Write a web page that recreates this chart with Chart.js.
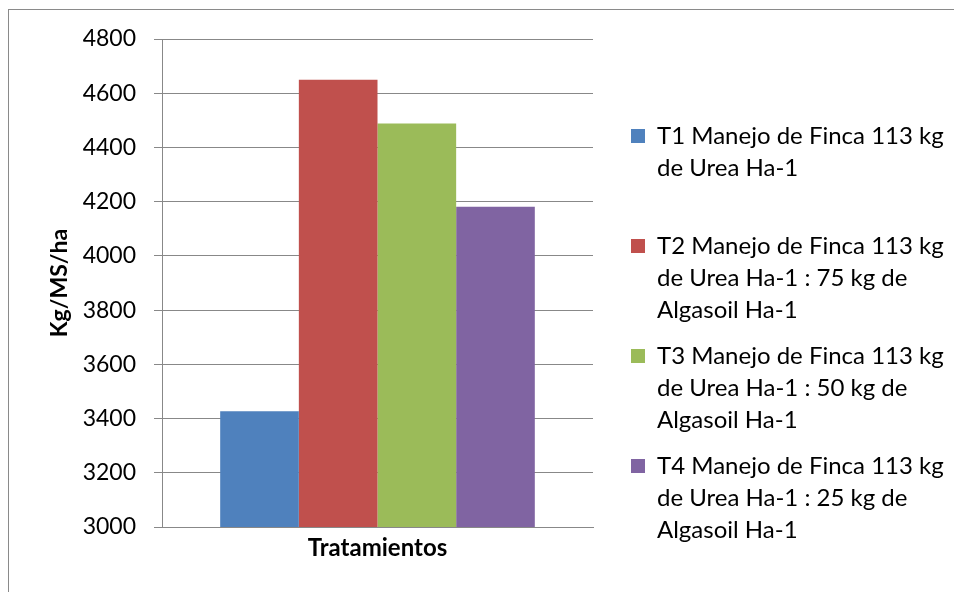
<!DOCTYPE html>
<html>
<head>
<meta charset="utf-8">
<script src="https://cdn.jsdelivr.net/npm/chart.js@4"></script>
<style>
  html, body { margin: 0; padding: 0; background: #fff; }
  #wrap { width: 954px; height: 592px; }
</style>
</head>
<body>
<div id="wrap"><canvas id="chart" width="954" height="592"></canvas></div>
<script>
// data
const categories = [''];
const legendLines = [
  ['T1 Manejo de Finca 113 kg', 'de Urea Ha-1', ''],
  ['T2 Manejo de Finca 113 kg', 'de Urea Ha-1 : 75 kg de', 'Algasoil Ha-1'],
  ['T3 Manejo de Finca 113 kg', 'de Urea Ha-1 : 50 kg de', 'Algasoil Ha-1'],
  ['T4 Manejo de Finca 113 kg', 'de Urea Ha-1 : 25 kg de', 'Algasoil Ha-1']
];
const seriesValues = [3427, 4650, 4488, 4181];
const seriesColors = ['#4F81BD', '#C0504D', '#9BBB59', '#8064A2'];
const yMin = 3000, yMax = 4800, yStep = 200;
const xTitle = 'Tratamientos';
const yTitle = 'Kg/MS/ha';

const gridColor = '#888888';
const font = 'Lato';

// outer frame of the chart object
const frame = {
  id: 'frame',
  beforeDraw(chart) {
    const ctx = chart.ctx;
    ctx.save();
    ctx.strokeStyle = '#8a8a8a';
    ctx.lineWidth = 1;
    ctx.strokeRect(8.5, 9.5, 1200, 1200);
    ctx.restore();
  }
};

// put the legend to the right of the plot, like the original
const legendPlace = {
  id: 'legendPlace',
  afterLayout(chart) {
    const l = chart.legend;
    l.left = 617; l.right = 954;
    l.top = 110; l.bottom = 592;
  }
};

const datasets = seriesValues.map((v, i) => ({
  label: legendLines[i].join(' ').trim(),
  data: [v],
  backgroundColor: seriesColors[i],
  borderWidth: 0
}));

new Chart(document.getElementById('chart'), {
  type: 'bar',
  data: { labels: categories, datasets: datasets },
  options: {
    responsive: false,
    devicePixelRatio: 1,
    animation: false,
    categoryPercentage: 0.73,
    barPercentage: 1,
    layout: { padding: { left: 46, top: 39, right: 361, bottom: 24 } },
    plugins: {
      tooltip: { enabled: false },
      legend: {
        position: 'chartArea',
        align: 'start',
        labels: {
          boxWidth: 14,
          boxHeight: 14,
          padding: 14,
          color: '#000',
          font: { family: font, size: 24, lineHeight: '32px' },
          generateLabels: chart => chart.data.datasets.map((ds, i) => ({
            text: legendLines[i],
            fillStyle: ds.backgroundColor,
            strokeStyle: ds.backgroundColor,
            lineWidth: 0,
            hidden: false,
            datasetIndex: i
          }))
        }
      }
    },
    scales: {
      x: {
        grid: { display: false },
        border: { display: true, color: gridColor },
        ticks: { display: false },
        title: {
          display: true,
          text: xTitle,
          color: '#000',
          font: { family: font, size: 24, weight: 'bold', lineHeight: 1.2 },
          padding: { top: 0, bottom: 5 }
        },
        afterFit: s => { s.height = 41; }
      },
      y: {
        min: yMin,
        max: yMax,
        border: { display: true, color: gridColor },
        grid: { color: gridColor, tickLength: 8, lineWidth: 1 },
        ticks: {
          stepSize: yStep,
          padding: 18,
          color: '#000',
          font: { family: font, size: 23 },
          callback: v => String(v)
        },
        title: {
          display: true,
          text: yTitle,
          color: '#000',
          font: { family: font, size: 23, weight: 'bold', lineHeight: 1.2 },
          padding: { top: 0, bottom: 0 }
        },
        afterFit: s => { s.width = 116; }
      }
    }
  },
  plugins: [frame, legendPlace]
});
</script>
</body>
</html>
